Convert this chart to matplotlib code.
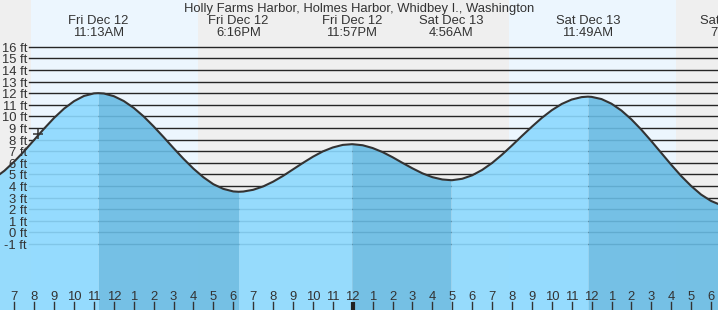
import matplotlib
matplotlib.use("Agg")
import matplotlib.pyplot as plt
import matplotlib.transforms as mtransforms
import numpy as np

plt.rcParams['font.family'] = ['Liberation Sans', 'DejaVu Sans']

# ---- data (hours since Fri Dec 12 00:00, heights in ft), read every half hour ----
times = [6, 6.5, 7, 7.5, 8, 8.5, 9, 9.5, 10, 10.5, 11, 11.217,
         11.5, 12, 12.5, 13, 13.5, 14, 14.5, 15, 15.5, 16, 16.5, 17, 17.5, 18, 18.267,
         18.5, 19, 19.5, 20, 20.5, 21, 21.5, 22, 22.5, 23, 23.5, 23.95,
         24, 24.5, 25, 25.5, 26, 26.5, 27, 27.5, 28, 28.5, 28.933,
         29, 29.5, 30, 30.5, 31, 31.5, 32, 32.5, 33, 33.5, 34, 34.5, 35, 35.5, 35.817,
         36, 36.5, 37, 37.5, 38, 38.5, 39, 39.5, 40, 40.5, 41, 41.5, 42, 42.5, 43]
heights = [4.67, 5.31, 6.11, 7.01, 7.98, 8.95, 9.87, 10.67, 11.31, 11.76, 11.98, 12.0,
           11.97, 11.74, 11.32, 10.73, 9.99, 9.13, 8.21, 7.26, 6.34, 5.49, 4.75, 4.15, 3.75, 3.53, 3.5,
           3.52, 3.67, 3.96, 4.37, 4.87, 5.43, 5.99, 6.52, 6.98, 7.32, 7.54, 7.6,
           7.6, 7.51, 7.27, 6.92, 6.48, 5.99, 5.52, 5.09, 4.76, 4.56, 4.5,
           4.5, 4.62, 4.92, 5.38, 5.98, 6.70, 7.49, 8.31, 9.11, 9.87, 10.53, 11.07, 11.45, 11.66, 11.7,
           11.68, 11.49, 11.09, 10.50, 9.74, 8.85, 7.87, 6.85, 5.83, 4.86, 4.0, 3.26, 2.71, 2.35, 2.2]

extreme_times = [11.217, 18.267, 23.95, 28.933, 35.817, 43.083]
extreme_days = ["Fri Dec 12", "Fri Dec 12", "Fri Dec 12", "Sat Dec 13", "Sat Dec 13", "Sat Dec 13"]
extreme_clock = ["11:13AM", "6:16PM", "11:57PM", "4:56AM", "11:49AM", "7:05PM"]

falling = [(11.217, 18.267), (23.95, 28.933), (35.817, 43.083)]
rising = [(6, 11.217), (18.267, 23.95), (28.933, 35.817)]

sunrise = [7.84, 31.85]
sunset = [16.23, 40.23]

ft_levels = list(range(-1, 17))
hour_ticks = list(range(7, 43))
hour_labels = [str((h - 1) % 12 + 1) for h in hour_ticks]
midnight = 24

now_time, now_height = 8.18, 8.48

title = "Holly Farms Harbor, Holmes Harbor, Whidbey I., Washington"

# ---- figure ----
W, H = 718, 310
fig = plt.figure(figsize=(W / 100, H / 100), dpi=100)
fig.patch.set_facecolor('#EFEFEF')
ax = fig.add_axes([0, 0, 1, 1])
ax.set_axis_off()
ax.set_xlim(6.28, 42.35)
ax.set_ylim(-6.69, 20.03)

txtc = '#333333'
fs = 9.36

# daylight
for a, b in zip(sunrise, sunset):
    ax.axvspan(a, b, color='#ECF6FE', lw=0, zorder=0)

# grid lines
for v in ft_levels:
    ax.axhline(v, xmin=29 / W, xmax=1, color='#262626', lw=1.0, zorder=1)

t = np.array(times)
h = np.array(heights)
for a, b in rising:
    m = (t >= a) & (t <= b)
    ax.fill_between(t, h, -7, where=m, color='#8CD9FE', alpha=0.9, lw=0, zorder=2)
for a, b in falling:
    m = (t >= a) & (t <= b)
    ax.fill_between(t, h, -7, where=m, color='#68BBE3', alpha=0.9, lw=0, zorder=2)

ax.plot(t, h, color='#333333', lw=1.5, zorder=3, solid_joinstyle='round')
ax.plot([now_time], [now_height], marker='+', ms=7, mew=1.1, color='#333333', zorder=4)

# y labels
yt = mtransforms.blended_transform_factory(ax.transAxes, ax.transData)
for v in ft_levels:
    ax.text(27 / W, v - 0.43, f"{v} ft", transform=yt, ha='right', va='baseline',
            fontsize=fs, color=txtc, zorder=5)

# hour ticks & labels
xt = mtransforms.blended_transform_factory(ax.transData, ax.transAxes)
for hh, lab in zip(hour_ticks, hour_labels):
    if hh == midnight:
        ax.plot([hh, hh], [0, 8.5 / H], transform=xt, color='#222222', lw=3, zorder=5,
                solid_capstyle='butt')
    else:
        ax.plot([hh, hh], [0, 8 / H], transform=xt, color='#333333', lw=1, zorder=5)
    ax.text(hh, 10 / H, lab, transform=xt, ha='center', va='baseline',
            fontsize=fs, color=txtc, zorder=5)

# extreme labels
for et, d, c in zip(extreme_times, extreme_days, extreme_clock):
    ax.text(et, 1 - 24.3 / H, d, transform=xt, ha='center', va='baseline',
            fontsize=fs, color=txtc, zorder=5, clip_on=False)
    ax.text(et, 1 - 36 / H, c, transform=xt, ha='center', va='baseline',
            fontsize=fs, color=txtc, zorder=5, clip_on=False)

fig.text(0.5, 1 - 12 / H, title, ha='center', va='baseline', fontsize=fs, color=txtc)

fig.savefig('out.png', dpi=100, facecolor=fig.get_facecolor())
